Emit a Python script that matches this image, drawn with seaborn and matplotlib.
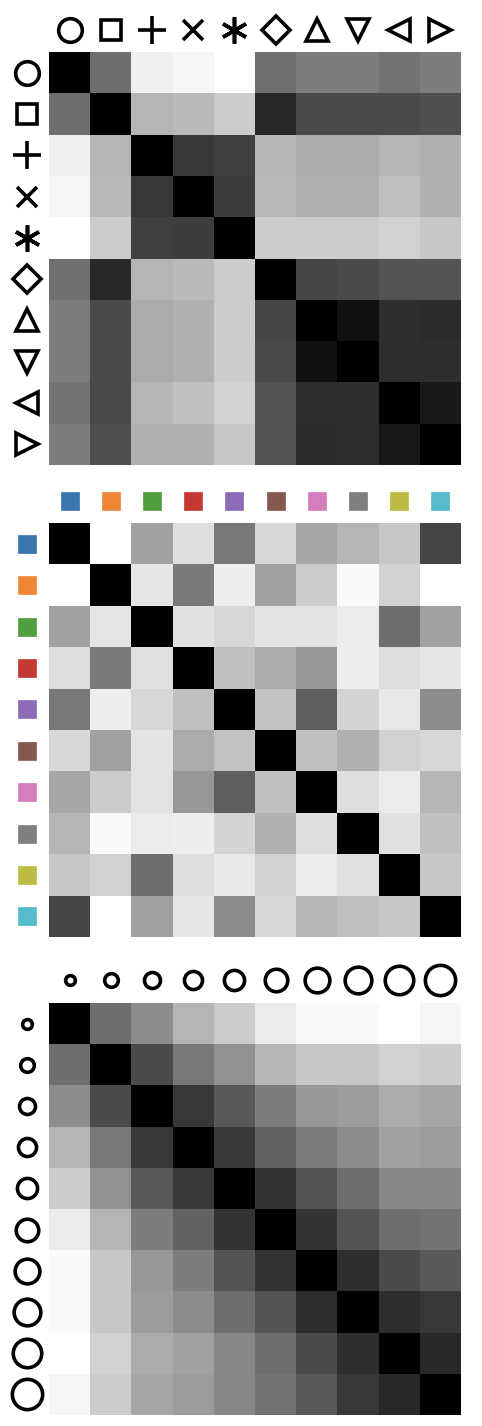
import numpy as np
import matplotlib
matplotlib.use("Agg")
import matplotlib.pyplot as plt
import matplotlib.transforms as mtransforms
import seaborn as sns

# ---- data -------------------------------------------------------------
marker_labels = ["o", "s", "+", "x", (6, 2, 0), "D", "^", "v", "<", ">"]
marker_label_sizes = [17.0, 15.0, 20.0, 14.5, 19.0, 14.0, 16.0, 16.0, 16.0, 16.0]
marker_dist = [
    [0.00, 0.43, 0.94, 0.96, 1.00, 0.44, 0.49, 0.49, 0.45, 0.49],
    [0.43, 0.00, 0.71, 0.73, 0.80, 0.16, 0.29, 0.29, 0.29, 0.31],
    [0.94, 0.71, 0.00, 0.22, 0.25, 0.71, 0.67, 0.67, 0.71, 0.69],
    [0.96, 0.73, 0.22, 0.00, 0.24, 0.73, 0.69, 0.69, 0.75, 0.69],
    [1.00, 0.80, 0.25, 0.24, 0.00, 0.80, 0.80, 0.80, 0.82, 0.78],
    [0.44, 0.16, 0.71, 0.73, 0.80, 0.00, 0.27, 0.29, 0.33, 0.33],
    [0.49, 0.29, 0.67, 0.69, 0.80, 0.27, 0.00, 0.07, 0.18, 0.17],
    [0.49, 0.29, 0.67, 0.69, 0.80, 0.29, 0.07, 0.00, 0.18, 0.18],
    [0.45, 0.29, 0.71, 0.75, 0.82, 0.33, 0.18, 0.18, 0.00, 0.10],
    [0.49, 0.31, 0.69, 0.69, 0.78, 0.33, 0.17, 0.18, 0.10, 0.00],
]

color_labels = ["#3a75b0", "#ef8636", "#519e3e", "#c53932", "#8d6bb8",
                "#84584e", "#d57dbf", "#7f7f7f", "#bcbc45", "#57bbcc"]
color_dist = [
    [0.00, 1.00, 0.63, 0.87, 0.47, 0.84, 0.65, 0.71, 0.78, 0.27],
    [1.00, 0.00, 0.90, 0.48, 0.93, 0.63, 0.80, 0.98, 0.82, 1.00],
    [0.63, 0.90, 0.00, 0.88, 0.84, 0.89, 0.89, 0.92, 0.43, 0.63],
    [0.87, 0.48, 0.88, 0.00, 0.75, 0.67, 0.59, 0.93, 0.87, 0.90],
    [0.47, 0.93, 0.84, 0.75, 0.00, 0.76, 0.37, 0.83, 0.91, 0.55],
    [0.84, 0.63, 0.89, 0.67, 0.76, 0.00, 0.75, 0.69, 0.82, 0.84],
    [0.65, 0.80, 0.89, 0.59, 0.37, 0.75, 0.00, 0.87, 0.92, 0.71],
    [0.71, 0.98, 0.92, 0.93, 0.83, 0.69, 0.87, 0.00, 0.88, 0.75],
    [0.78, 0.82, 0.43, 0.87, 0.91, 0.82, 0.92, 0.88, 0.00, 0.78],
    [0.27, 1.00, 0.63, 0.90, 0.55, 0.84, 0.71, 0.75, 0.78, 0.00],
]

size_labels = [7.0, 9.8, 11.5, 13.0, 14.5, 16.2, 17.8, 19.2, 20.5, 21.8]
size_dist = [
    [0.00, 0.43, 0.55, 0.71, 0.80, 0.92, 0.98, 0.98, 1.00, 0.96],
    [0.43, 0.00, 0.29, 0.47, 0.57, 0.71, 0.78, 0.78, 0.82, 0.80],
    [0.55, 0.29, 0.00, 0.22, 0.35, 0.49, 0.59, 0.61, 0.67, 0.65],
    [0.71, 0.47, 0.22, 0.00, 0.22, 0.39, 0.49, 0.55, 0.63, 0.61],
    [0.80, 0.57, 0.35, 0.22, 0.00, 0.20, 0.33, 0.43, 0.53, 0.53],
    [0.92, 0.71, 0.49, 0.39, 0.20, 0.00, 0.20, 0.33, 0.43, 0.45],
    [0.98, 0.78, 0.59, 0.49, 0.33, 0.20, 0.00, 0.18, 0.29, 0.35],
    [0.98, 0.78, 0.61, 0.55, 0.43, 0.33, 0.18, 0.00, 0.18, 0.22],
    [1.00, 0.82, 0.67, 0.63, 0.53, 0.43, 0.29, 0.18, 0.00, 0.16],
    [0.96, 0.80, 0.65, 0.61, 0.53, 0.45, 0.35, 0.22, 0.16, 0.00],
]

# ---- figure -----------------------------------------------------------
sns.set_theme(style="white")
plt.rcParams["font.family"] = ["DejaVu Sans"]

W, H = 482, 1426
fig = plt.figure(figsize=(W / 100, H / 100), dpi=100)

def axes_px(left, top, width, height):
    return fig.add_axes([left / W, 1 - (top + height) / H, width / W, height / H])

ax1 = axes_px(49, 52, 412, 413)
ax2 = axes_px(49, 523, 412, 414)
ax3 = axes_px(49, 1003, 412, 412)

for ax, data in [(ax1, marker_dist), (ax2, color_dist), (ax3, size_dist)]:
    sns.heatmap(np.array(data), ax=ax, cmap="gray", vmin=0, vmax=1,
                cbar=False, square=False, xticklabels=False, yticklabels=False)
    ax.set_xticks([])
    ax.set_yticks([])

def label_markers(ax, styles, top_off=1.054, left_off=-0.054):
    tx = mtransforms.blended_transform_factory(ax.transData, ax.transAxes)
    ty = mtransforms.blended_transform_factory(ax.transAxes, ax.transData)
    for i, st in enumerate(styles):
        ax.plot([i + 0.5], [top_off], transform=tx, clip_on=False, **st)
        ax.plot([left_off], [i + 0.5], transform=ty, clip_on=False, **st)

marker_styles = [dict(marker=m, ms=s, mfc="white", mec="black", mew=2.6,
                      linestyle="none")
                 for m, s in zip(marker_labels, marker_label_sizes)]
label_markers(ax1, marker_styles, top_off=1.054, left_off=-0.054)

color_styles = [dict(marker="s", ms=13.5, mfc=c, mec=c, mew=0.5,
                     linestyle="none") for c in color_labels]
label_markers(ax2, color_styles, top_off=1.052, left_off=-0.054)

size_styles = [dict(marker="o", ms=s, mfc="white", mec="black", mew=2.6,
                    linestyle="none") for s in size_labels]
label_markers(ax3, size_styles, top_off=1.055, left_off=-0.054)

fig.savefig("out.png", dpi=100)
